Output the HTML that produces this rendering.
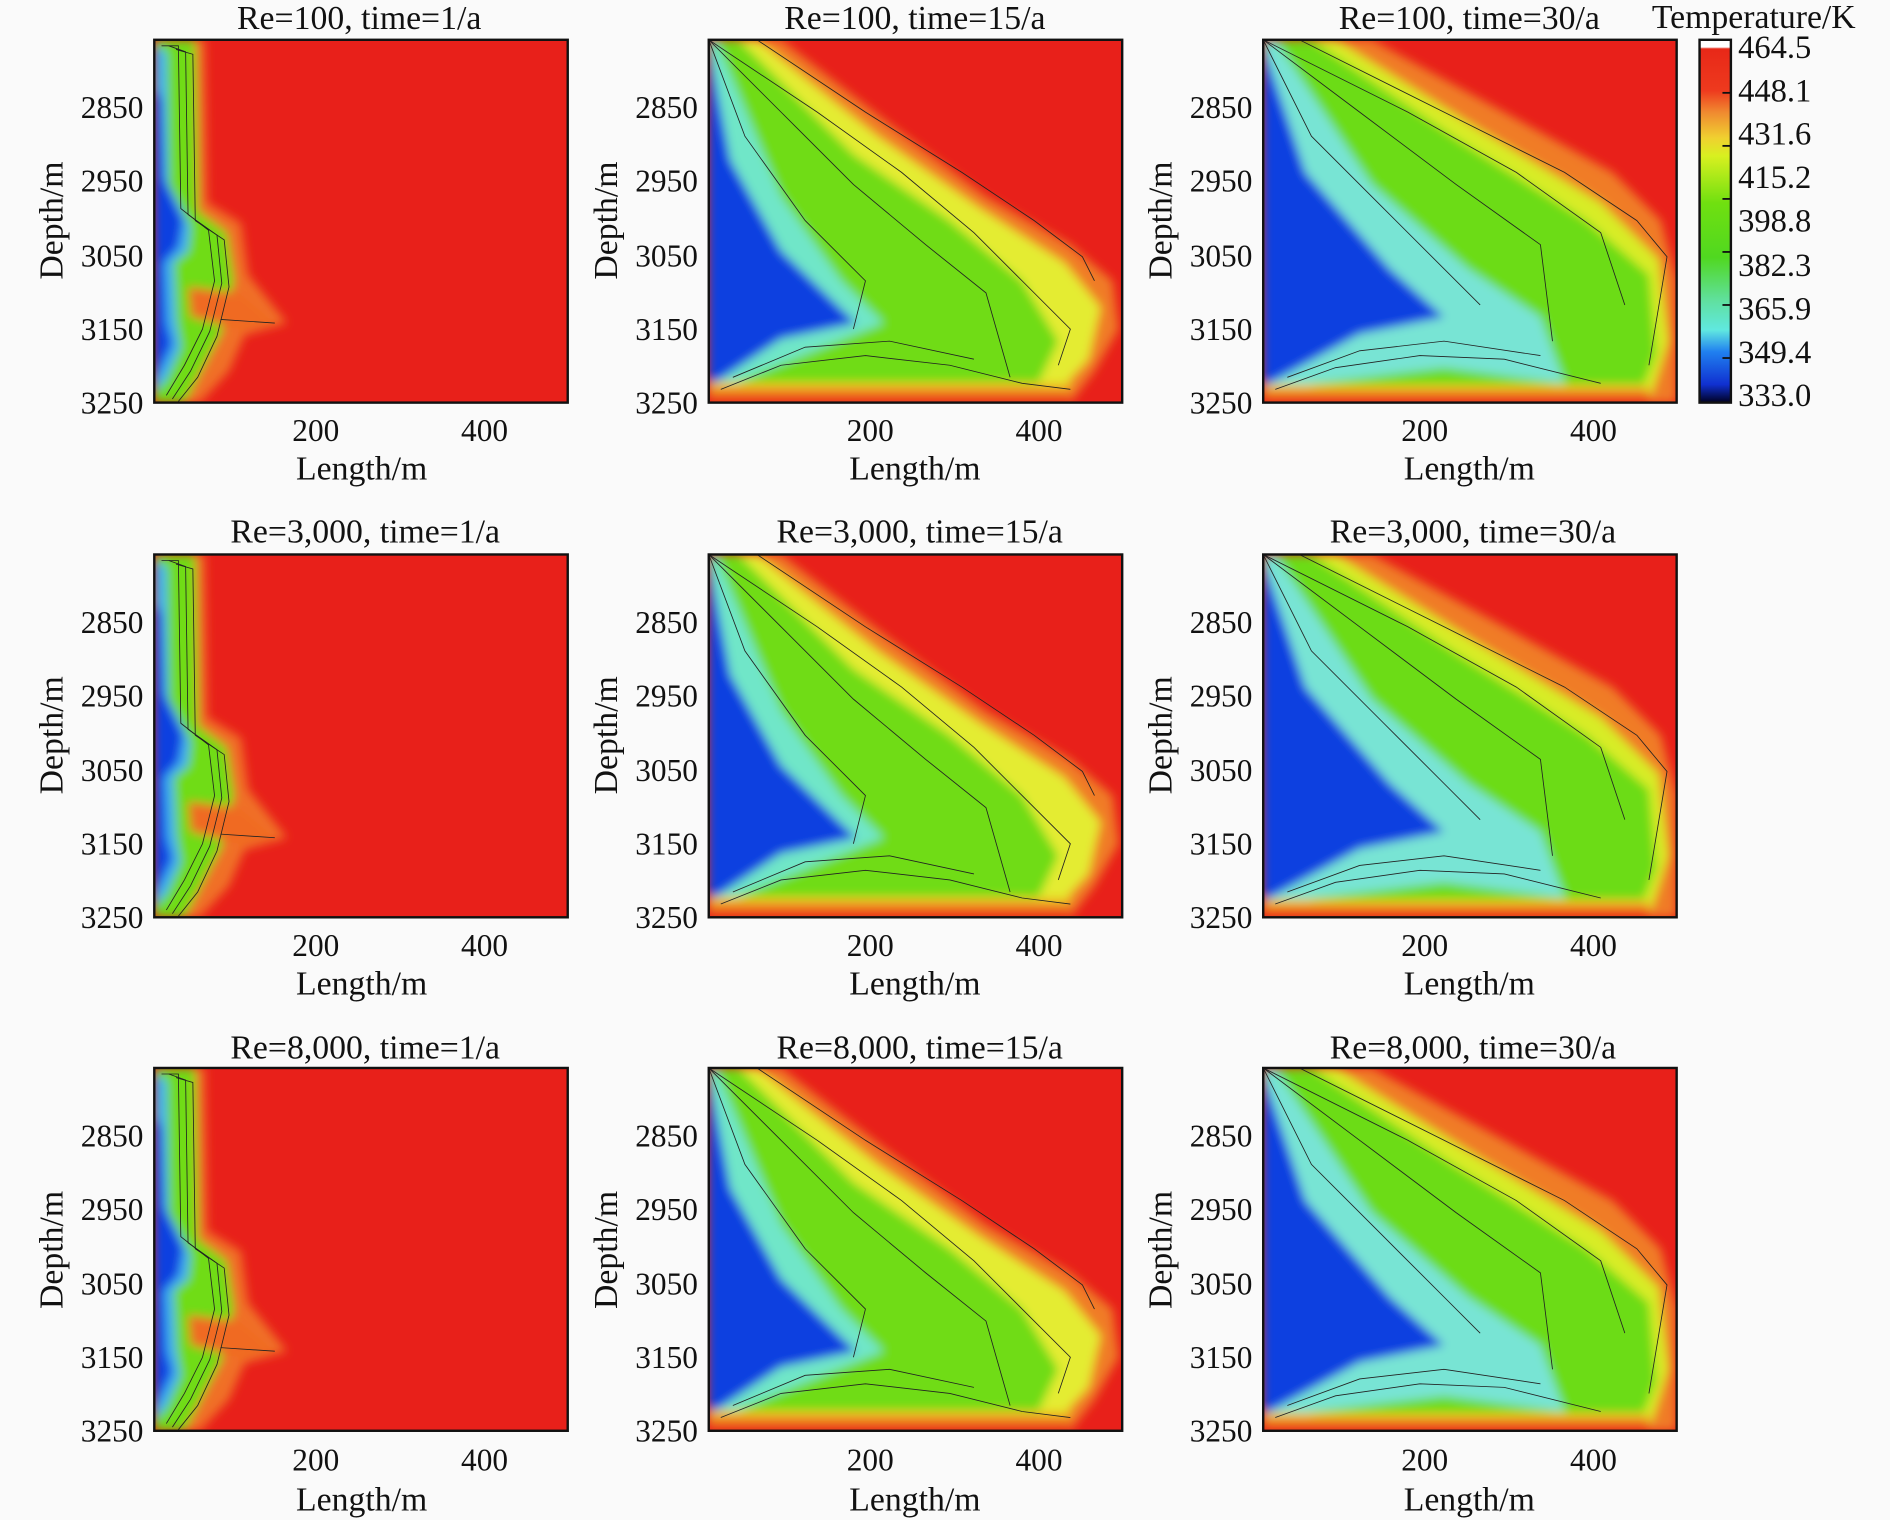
<!DOCTYPE html>
<html><head><meta charset="utf-8"><style>
html,body{margin:0;padding:0;background:#fafafa;}
svg{display:block;}
text{font-family:"Liberation Serif",serif;fill:#111;}
</style></head><body>
<svg width="1890" height="1520" viewBox="0 0 1568 1261" xmlns="http://www.w3.org/2000/svg">
<defs>
<filter id="bl" x="-10%" y="-10%" width="120%" height="120%"><feGaussianBlur stdDeviation="4"/></filter>
<clipPath id="cp"><rect x="0" y="0" width="343" height="301"/></clipPath>
<linearGradient id="bot" x1="0" y1="0" x2="0" y2="1">
<stop offset="0" stop-color="#e8e020"/><stop offset="0.5" stop-color="#f08020"/><stop offset="1" stop-color="#e82818"/></linearGradient>
<linearGradient id="cb" x1="0" y1="0" x2="0" y2="1">
<stop offset="0" stop-color="#ffffff"/><stop offset="0.02" stop-color="#ffffff"/><stop offset="0.025" stop-color="#e82818"/>
<stop offset="0.14" stop-color="#ee3a1e"/><stop offset="0.2" stop-color="#f08a30"/><stop offset="0.27" stop-color="#f0d030"/>
<stop offset="0.32" stop-color="#d8f020"/><stop offset="0.45" stop-color="#70e010"/><stop offset="0.6" stop-color="#50d820"/>
<stop offset="0.72" stop-color="#60e0a0"/><stop offset="0.8" stop-color="#60e8e0"/><stop offset="0.86" stop-color="#2080f0"/>
<stop offset="0.95" stop-color="#1030d0"/><stop offset="1" stop-color="#000020"/></linearGradient>
<g id="f1">
<rect width="343" height="301" fill="#e8201a"/>
<g filter="url(#bl)">
<path d="M0,0 L42,0 L44,135 L72,152 L78,195 L110,235 L75,245 L62,275 L38,301 L0,301Z" fill="#f07028"/>
<path d="M0,0 L34,0 L36,142 L60,160 L66,200 L56,242 L40,272 L25,301 L0,301Z" fill="#70dc18"/>
<path d="M0,6 L10,10 L12,120 L30,155 L28,175 L16,185 L18,232 L22,255 L10,282 L0,292Z" fill="#40b0f0"/>
<path d="M0,40 L6,50 L8,115 L24,150 L20,172 L8,185 L10,235 L15,252 L4,275 L0,282Z" fill="#1040e0"/>
<path d="M28,205 L70,210 L100,235 L70,240 L30,230Z" fill="#f06a20"/>
</g>
<g fill="none" stroke="#222" stroke-width="0.7">
<path d="M6,5 L20,5 L22,140 L45,158 L50,200 L40,240 L25,270 L10,295"/>
<path d="M12,5 L26,10 L28,145 L52,162 L56,202 L46,242 L30,275 L15,298"/>
<path d="M18,8 L32,12 L34,150 L58,166 L62,205 L52,246 L36,280 L20,300"/>
<path d="M55,232 L100,235"/>
</g>
</g>
<g id="f2">
<rect width="343" height="301" fill="#e8201a"/>
<g filter="url(#bl)">
<path d="M0,0 L60,0 L150,70 L230,130 L300,170 L335,200 L340,240 L320,275 L300,301 L0,301Z" fill="#f07c28"/>
<path d="M0,0 L40,0 L140,80 L225,140 L295,185 L325,222 L315,265 L290,292 L0,296Z" fill="#e4ec30"/>
<path d="M0,0 L25,0 L120,95 L200,150 L260,200 L290,250 L270,292 L0,295Z" fill="#70dc18"/>
<path d="M0,0 L6,0 L60,130 L110,200 L145,235 L95,255 L25,283 L0,301Z" fill="#70e6c8"/>
<path d="M0,5 L18,100 L60,175 L122,235 L60,248 L0,288Z" fill="#1040e0"/>
<rect x="0" y="284" width="300" height="17" fill="url(#bot)"/>
</g>
<g fill="none" stroke="#222" stroke-width="0.7">
<path d="M0,0 L30,80 L80,150 L130,200 L120,240"/>
<path d="M0,0 L60,60 L120,120 L180,170 L230,210 L250,280"/>
<path d="M0,0 L90,60 L160,110 L220,160 L260,200 L300,240 L290,270"/>
<path d="M40,0 L130,60 L210,110 L270,150 L310,180 L320,200"/>
<path d="M10,290 L60,270 L130,262 L200,270 L260,285 L300,290"/>
<path d="M20,280 L80,255 L150,250 L220,265"/>
</g>
</g>
<g id="f3">
<rect width="343" height="301" fill="#e8201a"/>
<g filter="url(#bl)">
<path d="M0,0 L90,0 L200,60 L290,110 L330,150 L343,200 L343,301 L0,301Z" fill="#f07c28"/>
<path d="M0,0 L60,0 L175,72 L280,135 L328,182 L336,250 L322,295 L0,297Z" fill="#d8ec28"/>
<path d="M0,0 L40,0 L160,82 L268,150 L320,195 L326,260 L312,295 L0,296Z" fill="#6cdc18"/>
<path d="M0,0 L10,0 L90,120 L170,190 L230,230 L250,285 L150,272 L40,285 L0,301Z" fill="#78e4d4"/>
<path d="M0,5 L35,110 L105,190 L150,230 L80,244 L0,288Z" fill="#1040e0"/>
<rect x="0" y="286" width="320" height="15" fill="url(#bot)"/>
</g>
<g fill="none" stroke="#222" stroke-width="0.7">
<path d="M0,0 L40,80 L100,140 L150,190 L180,220"/>
<path d="M0,0 L80,60 L160,120 L230,170 L240,250"/>
<path d="M0,0 L120,60 L210,110 L280,160 L300,220"/>
<path d="M30,0 L150,60 L250,110 L310,150 L335,180 L320,270"/>
<path d="M10,290 L60,272 L130,262 L200,265 L280,285"/>
<path d="M20,280 L80,258 L150,250 L230,262"/>
</g>
</g>
</defs>

<g font-size="28" text-anchor="middle">
<text x="298" y="24">Re=100, time=1/a</text>
<text x="759" y="24">Re=100, time=15/a</text>
<text x="1219" y="24">Re=100, time=30/a</text>
<text x="303" y="450">Re=3,000, time=1/a</text>
<text x="763" y="450">Re=3,000, time=15/a</text>
<text x="1222" y="450">Re=3,000, time=30/a</text>
<text x="303" y="878">Re=8,000, time=1/a</text>
<text x="763" y="878">Re=8,000, time=15/a</text>
<text x="1222" y="878">Re=8,000, time=30/a</text>
</g>

<g clip-path="url(#cp)" transform="translate(128,33)"><use href="#f1"/></g>
<g clip-path="url(#cp)" transform="translate(588,33)"><use href="#f2"/></g>
<g clip-path="url(#cp)" transform="translate(1048,33)"><use href="#f3"/></g>
<g clip-path="url(#cp)" transform="translate(128,460)"><use href="#f1"/></g>
<g clip-path="url(#cp)" transform="translate(588,460)"><use href="#f2"/></g>
<g clip-path="url(#cp)" transform="translate(1048,460)"><use href="#f3"/></g>
<g clip-path="url(#cp)" transform="translate(128,886)"><use href="#f1"/></g>
<g clip-path="url(#cp)" transform="translate(588,886)"><use href="#f2"/></g>
<g clip-path="url(#cp)" transform="translate(1048,886)"><use href="#f3"/></g>

<g fill="none" stroke="#111" stroke-width="2">
<rect x="128" y="33" width="343" height="301"/><rect x="588" y="33" width="343" height="301"/><rect x="1048" y="33" width="343" height="301"/>
<rect x="128" y="460" width="343" height="301"/><rect x="588" y="460" width="343" height="301"/><rect x="1048" y="460" width="343" height="301"/>
<rect x="128" y="886" width="343" height="301"/><rect x="588" y="886" width="343" height="301"/><rect x="1048" y="886" width="343" height="301"/>
</g>

<g font-size="26" text-anchor="end">
<text x="119" y="98">2850</text><text x="119" y="159">2950</text><text x="119" y="221">3050</text><text x="119" y="282">3150</text><text x="119" y="343">3250</text>
<text x="579" y="98">2850</text><text x="579" y="159">2950</text><text x="579" y="221">3050</text><text x="579" y="282">3150</text><text x="579" y="343">3250</text>
<text x="1039" y="98">2850</text><text x="1039" y="159">2950</text><text x="1039" y="221">3050</text><text x="1039" y="282">3150</text><text x="1039" y="343">3250</text>
<text x="119" y="525">2850</text><text x="119" y="586">2950</text><text x="119" y="648">3050</text><text x="119" y="709">3150</text><text x="119" y="770">3250</text>
<text x="579" y="525">2850</text><text x="579" y="586">2950</text><text x="579" y="648">3050</text><text x="579" y="709">3150</text><text x="579" y="770">3250</text>
<text x="1039" y="525">2850</text><text x="1039" y="586">2950</text><text x="1039" y="648">3050</text><text x="1039" y="709">3150</text><text x="1039" y="770">3250</text>
<text x="119" y="951">2850</text><text x="119" y="1012">2950</text><text x="119" y="1074">3050</text><text x="119" y="1135">3150</text><text x="119" y="1196">3250</text>
<text x="579" y="951">2850</text><text x="579" y="1012">2950</text><text x="579" y="1074">3050</text><text x="579" y="1135">3150</text><text x="579" y="1196">3250</text>
<text x="1039" y="951">2850</text><text x="1039" y="1012">2950</text><text x="1039" y="1074">3050</text><text x="1039" y="1135">3150</text><text x="1039" y="1196">3250</text>
</g>
<g font-size="26" text-anchor="middle">
<text x="262" y="366">200</text><text x="402" y="366">400</text><text x="722" y="366">200</text><text x="862" y="366">400</text><text x="1182" y="366">200</text><text x="1322" y="366">400</text>
<text x="262" y="793">200</text><text x="402" y="793">400</text><text x="722" y="793">200</text><text x="862" y="793">400</text><text x="1182" y="793">200</text><text x="1322" y="793">400</text>
<text x="262" y="1220">200</text><text x="402" y="1220">400</text><text x="722" y="1220">200</text><text x="862" y="1220">400</text><text x="1182" y="1220">200</text><text x="1322" y="1220">400</text>
</g>
<g font-size="28" text-anchor="middle">
<text x="300" y="398">Length/m</text><text x="759" y="398">Length/m</text><text x="1219" y="398">Length/m</text>
<text x="300" y="825">Length/m</text><text x="759" y="825">Length/m</text><text x="1219" y="825">Length/m</text>
<text x="300" y="1253">Length/m</text><text x="759" y="1253">Length/m</text><text x="1219" y="1253">Length/m</text>
<text transform="translate(52,183) rotate(-90)">Depth/m</text><text transform="translate(512,183) rotate(-90)">Depth/m</text><text transform="translate(972,183) rotate(-90)">Depth/m</text>
<text transform="translate(52,610) rotate(-90)">Depth/m</text><text transform="translate(512,610) rotate(-90)">Depth/m</text><text transform="translate(972,610) rotate(-90)">Depth/m</text>
<text transform="translate(52,1037) rotate(-90)">Depth/m</text><text transform="translate(512,1037) rotate(-90)">Depth/m</text><text transform="translate(972,1037) rotate(-90)">Depth/m</text>
<text x="1455" y="23">Temperature/K</text>
</g>

<rect x="1410" y="33" width="26" height="301" fill="url(#cb)" stroke="#111" stroke-width="2"/>
<g stroke="#111" stroke-width="1.5">
<line x1="1429" y1="77" x2="1436" y2="77"/><line x1="1429" y1="121" x2="1436" y2="121"/><line x1="1429" y1="165" x2="1436" y2="165"/>
<line x1="1429" y1="209" x2="1436" y2="209"/><line x1="1429" y1="253" x2="1436" y2="253"/><line x1="1429" y1="297" x2="1436" y2="297"/>
</g>
<g font-size="27">
<text x="1442" y="48">464.5</text><text x="1442" y="84">448.1</text><text x="1442" y="120">431.6</text><text x="1442" y="156">415.2</text>
<text x="1442" y="192">398.8</text><text x="1442" y="229">382.3</text><text x="1442" y="265">365.9</text><text x="1442" y="301">349.4</text><text x="1442" y="337">333.0</text>
</g>
</svg>
</body></html>
